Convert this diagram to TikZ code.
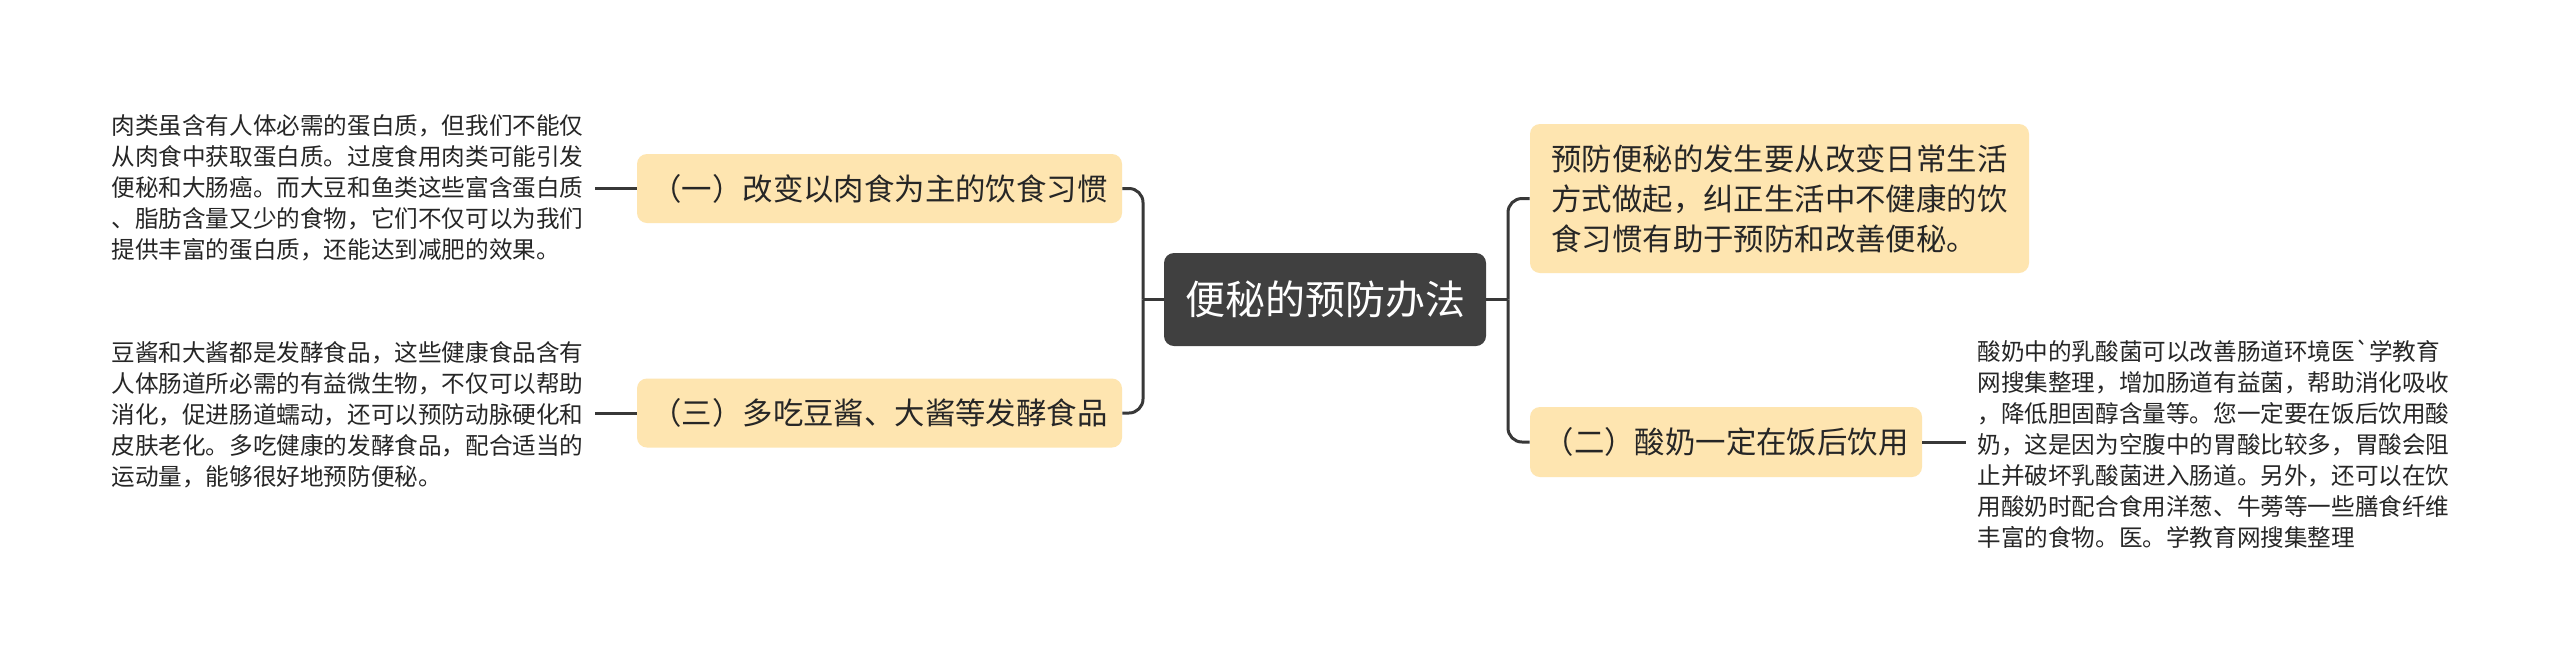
\documentclass[tikz,border=0pt]{standalone}
\usepackage{fontspec}
\newfontfamily\cjk{Noto Sans CJK SC}
\begin{document}
\definecolor{rootfill}{HTML}{404040}
\definecolor{subfill}{HTML}{FEE5B0}
\definecolor{conncol}{HTML}{383838}
\definecolor{txtcol}{HTML}{262626}
\begin{tikzpicture}[x=0.5pt,y=-0.5pt,
  rootbox/.style={rectangle, rounded corners=5pt, fill=rootfill, text=white,
    minimum width=161pt, minimum height=46.5pt, inner sep=0pt,
    font=\cjk\fontsize{20}{24}\selectfont},
  subbox/.style={rectangle, rounded corners=5pt, fill=subfill, text=txtcol,
    inner sep=0pt, align=left, font=\cjk\fontsize{15.2}{20}\selectfont},
  para/.style={inner xsep=5.5pt, inner ysep=0pt, align=left, text=txtcol,
    font=\cjk\fontsize{11.8}{15.5}\selectfont},
  conn/.style={draw=conncol, line width=1.5pt},
  rconn/.style={conn, rounded corners=7pt}]
\useasboundingbox[fill=white] (0,0) rectangle (2560,660);

\node[rootbox] (root) at (1325,299.5) {便秘的预防办法};

\node[subbox, minimum width=242.5pt, minimum height=34.5pt] (n1) at (879.5,188.5) {（一）改变以肉食为主的饮食习惯};
\node[subbox, minimum width=242.5pt, minimum height=34.5pt] (n3) at (879.5,413) {（三）多吃豆酱、大酱等发酵食品};
\node[subbox, minimum width=249.5pt, minimum height=74.5pt] (n2) at (1779.5,198.5) {预防便秘的发生要从改变日常生活\\方式做起，纠正生活中不健康的饮\\食习惯有助于预防和改善便秘。};
\node[subbox, minimum width=196pt, minimum height=35pt] (n4) at (1726,442) {（二）酸奶一定在饭后饮用};

\node[para, anchor=west] (p1) at (100,188) {肉类虽含有人体必需的蛋白质，但我们不能仅\\从肉食中获取蛋白质。过度食用肉类可能引发\\便秘和大肠癌。而大豆和鱼类这些富含蛋白质\\、脂肪含量又少的食物，它们不仅可以为我们\\提供丰富的蛋白质，还能达到减肥的效果。};
\node[para, anchor=west] (p3) at (100,415) {豆酱和大酱都是发酵食品，这些健康食品含有\\人体肠道所必需的有益微生物，不仅可以帮助\\消化，促进肠道蠕动，还可以预防动脉硬化和\\皮肤老化。多吃健康的发酵食品，配合适当的\\运动量，能够很好地预防便秘。};
\node[para, anchor=west] (p4) at (1966,444) {酸奶中的乳酸菌可以改善肠道环境医\char96 学教育\\网搜集整理，增加肠道有益菌，帮助消化吸收\\，降低胆固醇含量等。您一定要在饭后饮用酸\\奶，这是因为空腹中的胃酸比较多，胃酸会阻\\止并破坏乳酸菌进入肠道。另外，还可以在饮\\用酸奶时配合食用洋葱、牛蒡等一些膳食纤维\\丰富的食物。医。学教育网搜集整理};

\coordinate (jl) at (1143,299.5);
\coordinate (jr) at (1508,299.5);

\draw[conn] (root.west) -- (jl);
\draw[rconn] (n1.east) -| (jl);
\draw[rconn] (n3.east) -| (jl);
\draw[conn] (root.east) -- (jr);
\draw[rconn] (n2.west) -| (jr);
\draw[rconn] (n4.west) -| (jr);

\draw[conn] (n1.west) -- (n1.west -| p1.east);
\draw[conn] (n3.west) -- (n3.west -| p3.east);
\draw[conn] (n4.east) -- (n4.east -| p4.west);
\end{tikzpicture}
\end{document}
